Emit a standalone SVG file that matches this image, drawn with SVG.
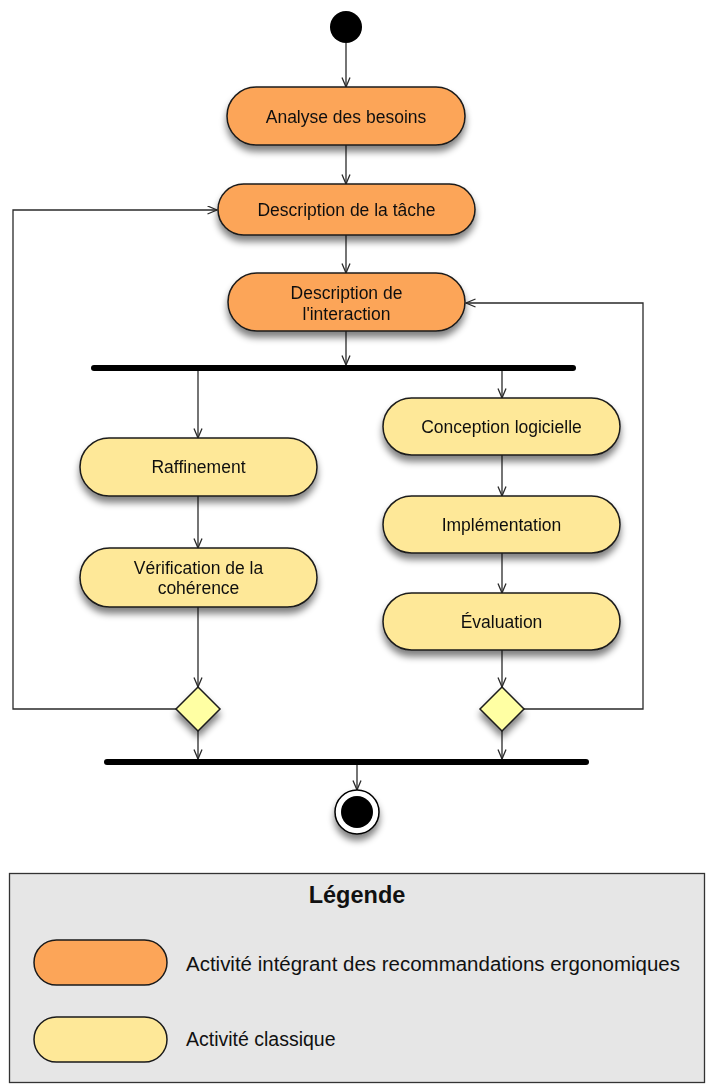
<svg xmlns="http://www.w3.org/2000/svg" width="708" height="1086" viewBox="0 0 708 1086">
  <style>
    .lbl { font-family: "Liberation Sans", Arial, Helvetica, sans-serif; font-size: 17.5px; fill: #111; text-anchor: middle; }
    .leg { font-family: "Liberation Sans", Arial, Helvetica, sans-serif; font-size: 19.5px; fill: #111; }
    .title { font-family: "Liberation Sans", Arial, Helvetica, sans-serif; font-size: 23.5px; font-weight: bold; fill: #111; text-anchor: middle; }
    .ergo { fill: #FCA558; stroke: #1a1a1a; stroke-width: 1.5; }
    .std { fill: #FEE898; stroke: #1a1a1a; stroke-width: 1.5; }
    .dec { fill: #FFFFA3; stroke: #1a1a1a; stroke-width: 1.5; }
    .bar { stroke: #000; stroke-width: 6; stroke-linecap: round; }
    .edge { fill: none; stroke: #2a2a2a; stroke-width: 1.3; }
  </style>
  <defs>
    <filter id="shadow" x="-20%" y="-30%" width="140%" height="180%">
      <feGaussianBlur in="SourceAlpha" stdDeviation="3.5"/>
      <feOffset dx="0" dy="6" result="off"/>
      <feComponentTransfer><feFuncA type="linear" slope="0.5"/></feComponentTransfer>
      <feMerge><feMergeNode/><feMergeNode in="SourceGraphic"/></feMerge>
    </filter>
    <marker id="arrow" markerUnits="userSpaceOnUse" markerWidth="11" markerHeight="10" refX="10" refY="4.5" orient="auto">
      <path d="M0.5,0.5 L10,4.5 L0.5,8.5" fill="none" stroke="#2a2a2a" stroke-width="1.3"/>
    </marker>
  </defs>

  <!-- connectors -->
  <g id="connectors">
    <line class="edge" x1="346" y1="43" x2="346" y2="87" marker-end="url(#arrow)"/>
    <line class="edge" x1="346" y1="145" x2="346" y2="184" marker-end="url(#arrow)"/>
    <line class="edge" x1="346" y1="235" x2="346" y2="273" marker-end="url(#arrow)"/>
    <line class="edge" x1="346" y1="331" x2="346" y2="365" marker-end="url(#arrow)"/>
    <line class="edge" x1="198" y1="371" x2="198" y2="438" marker-end="url(#arrow)"/>
    <line class="edge" x1="502" y1="371" x2="502" y2="398" marker-end="url(#arrow)"/>
    <line class="edge" x1="198" y1="496" x2="198" y2="548" marker-end="url(#arrow)"/>
    <line class="edge" x1="198" y1="607" x2="198" y2="687" marker-end="url(#arrow)"/>
    <line class="edge" x1="502" y1="455" x2="502" y2="496" marker-end="url(#arrow)"/>
    <line class="edge" x1="502" y1="553" x2="502" y2="593" marker-end="url(#arrow)"/>
    <line class="edge" x1="502" y1="650" x2="502" y2="687" marker-end="url(#arrow)"/>
    <line class="edge" x1="198" y1="731" x2="198" y2="759" marker-end="url(#arrow)"/>
    <line class="edge" x1="502" y1="731" x2="502" y2="759" marker-end="url(#arrow)"/>
    <line class="edge" x1="357" y1="765" x2="357" y2="790" marker-end="url(#arrow)"/>
    <polyline class="edge" points="176,709 13,709 13,210 217,210" marker-end="url(#arrow)"/>
    <polyline class="edge" points="524,709 643,709 643,303 466,303" marker-end="url(#arrow)"/>
  </g>

  <!-- initial and final states -->
  <g id="start">
    <circle cx="346" cy="27" r="16" fill="#000"/>
  </g>
  <g id="end" filter="url(#shadow)">
    <circle cx="357" cy="812" r="22" fill="#fff" stroke="#000" stroke-width="1.5"/>
    <circle cx="357" cy="812" r="16" fill="#000"/>
  </g>

  <!-- fork / join bars -->
  <g id="fork"><line class="bar" x1="94" y1="368" x2="573" y2="368"/></g>
  <g id="join"><line class="bar" x1="107" y1="762" x2="586" y2="762"/></g>

  <!-- activities -->
  <g id="analyse" filter="url(#shadow)">
    <rect class="ergo" x="227" y="87" width="238" height="58" rx="29"/>
    <text class="lbl" x="346" y="122.5">Analyse des besoins</text>
  </g>
  <g id="tache" filter="url(#shadow)">
    <rect class="ergo" x="218" y="184" width="257" height="51" rx="25.5"/>
    <text class="lbl" x="346.5" y="216">Description de la tâche</text>
  </g>
  <g id="interaction" filter="url(#shadow)">
    <rect class="ergo" x="228" y="273" width="237" height="58" rx="29"/>
    <text class="lbl" x="346.5" y="299">Description de</text>
    <text class="lbl" x="346.5" y="319.5">l'interaction</text>
  </g>
  <g id="raffinement" filter="url(#shadow)">
    <rect class="std" x="80" y="438" width="237" height="58" rx="29"/>
    <text class="lbl" x="198.5" y="473">Raffinement</text>
  </g>
  <g id="verification" filter="url(#shadow)">
    <rect class="std" x="80" y="548" width="237" height="59" rx="29.5"/>
    <text class="lbl" x="198.5" y="574">Vérification de la</text>
    <text class="lbl" x="198.5" y="594">cohérence</text>
  </g>
  <g id="conception" filter="url(#shadow)">
    <rect class="std" x="383" y="398" width="237" height="57" rx="28.5"/>
    <text class="lbl" x="501.5" y="433">Conception logicielle</text>
  </g>
  <g id="implementation" filter="url(#shadow)">
    <rect class="std" x="383" y="496" width="237" height="57" rx="28.5"/>
    <text class="lbl" x="501.5" y="531">Implémentation</text>
  </g>
  <g id="evaluation" filter="url(#shadow)">
    <rect class="std" x="383" y="593" width="237" height="57" rx="28.5"/>
    <text class="lbl" x="501.5" y="628">Évaluation</text>
  </g>

  <!-- decisions -->
  <g id="decision-left" filter="url(#shadow)">
    <polygon class="dec" points="198,687 220,709 198,731 176,709"/>
  </g>
  <g id="decision-right" filter="url(#shadow)">
    <polygon class="dec" points="502,687 524,709 502,731 480,709"/>
  </g>

  <!-- legend -->
  <g id="legend">
    <rect x="9.5" y="873.5" width="695" height="209" fill="#E6E6E6" stroke="#333" stroke-width="1.3"/>
    <text class="title" x="357" y="903">Légende</text>
    <rect class="ergo" x="34" y="940" width="133" height="45" rx="22.5"/>
    <text class="leg" x="186" y="971" textLength="494" lengthAdjust="spacingAndGlyphs">Activité intégrant des recommandations ergonomiques</text>
    <rect class="std" x="34" y="1017" width="133" height="45" rx="22.5"/>
    <text class="leg" x="186" y="1046">Activité classique</text>
  </g>
</svg>
